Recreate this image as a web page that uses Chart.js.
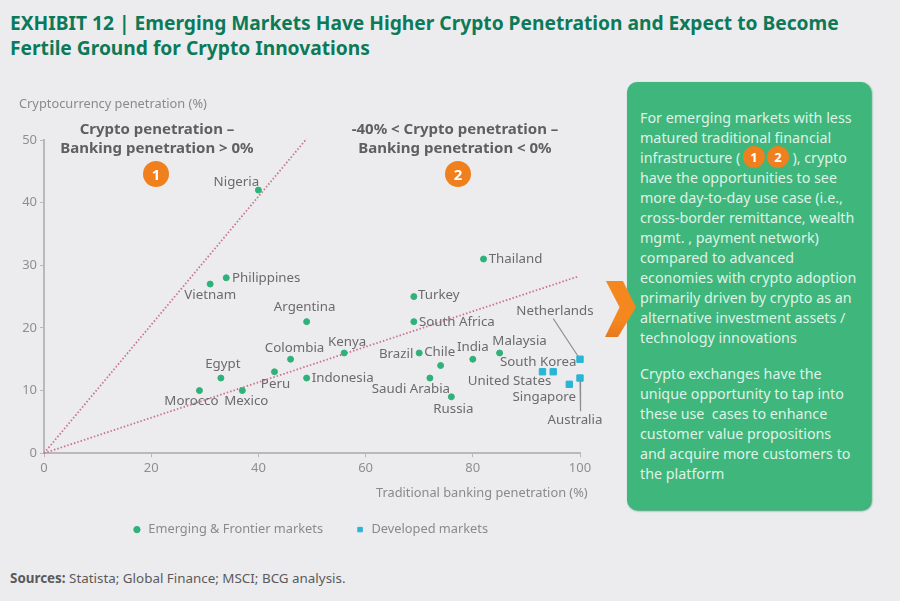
<!DOCTYPE html>
<html>
<head>
<meta charset="utf-8">
<script src="https://cdn.jsdelivr.net/npm/chart.js@4"></script>
<style>
html, body { margin: 0; padding: 0; }
body { width: 900px; height: 601px; background: #ececee; font-family: "Noto Sans", sans-serif; position: relative; overflow: hidden; }
.abs { position: absolute; }
#chart { position: absolute; left: 0; top: 90px; }
#title { left: 10px; top: 10px; font-size: 19.2px; line-height: 25px; font-weight: 700; color: #0c7a58; white-space: nowrap; }
.axisname { font-size: 12.8px; color: #8a8a8c; white-space: nowrap; }
.zone { font-size: 15px; line-height: 19px; font-weight: 700; color: #5f5f62; text-align: center; white-space: nowrap; transform: translateX(-50%); }
.badge { width: 26px; height: 26px; line-height: 26px; border-radius: 50%; background: #f07f1e; color: #fff; font-size: 15px; font-weight: 700; text-align: center; }
#panel { left: 627px; top: 82px; width: 244px; height: 428px; background: #3eb67c; border-radius: 10px; box-shadow: 1px 1px 2px #2f9c68; }
#paneltext { left: 640px; top: 108px; font-size: 14.3px; line-height: 20px; color: #dff3e6; white-space: nowrap; }
#arrow { left: 605px; top: 281px; width: 31px; height: 56px; background: linear-gradient(#f5871f 70%, #e57a1c 100%); clip-path: polygon(3% 0, 58% 0, 100% 47%, 42% 100%, 0 100%, 47% 47%); }
#sources { left: 10px; top: 569px; font-size: 13.4px; color: #5a5a5c; white-space: nowrap; }
</style>
</head>
<body>
<div class="abs" id="title">EXHIBIT 12 | Emerging Markets Have Higher Crypto Penetration and Expect to Become<br>Fertile Ground for Crypto Innovations</div>
<canvas id="chart" width="620" height="456"></canvas>
<div class="abs axisname" style="left:19px;top:94px">Cryptocurrency penetration (%)</div>
<div class="abs axisname" style="left:376px;top:483px">Traditional banking penetration (%)</div>
<div class="abs zone" style="left:157px;top:119px">Crypto penetration –<br>Banking penetration &gt; 0%</div>
<div class="abs zone" style="left:455px;top:119px">-40% &lt; Crypto penetration –<br>Banking penetration &lt; 0%</div>
<div class="abs badge" style="left:143px;top:161px">1</div>
<div class="abs badge" style="left:445px;top:161px">2</div>
<div class="abs" id="panel"></div>
<div class="abs" id="arrow"></div>
<div class="abs" id="paneltext">For emerging markets with less<br>matured traditional financial<br>infrastructure (&nbsp;&nbsp;&nbsp;&nbsp;&nbsp;&nbsp;&nbsp;&nbsp;&nbsp;&nbsp;&nbsp;&nbsp;&nbsp;&nbsp;), crypto<br>have the opportunities to see<br>more day-to-day use case (i.e.,<br>cross-border remittance, wealth<br>mgmt. , payment network)<br>compared to advanced<br>economies with crypto adoption<br>primarily driven by crypto as an<br>alternative investment assets /<br>technology innovations<div style="height:16px"></div>Crypto exchanges have the<br>unique opportunity to tap into<br>these use&nbsp; cases to enhance<br>customer value propositions<br>and acquire more customers to<br>the platform</div>
<div class="abs badge" style="left:743px;top:146px;width:22px;height:22px;line-height:22px;font-size:13px">1</div>
<div class="abs badge" style="left:767px;top:146px;width:22px;height:22px;line-height:22px;font-size:13px">2</div>
<div class="abs" id="sources"><b>Sources:</b> Statista; Global Finance; MSCI; BCG analysis.</div>

<script>
// 数据
const xTicks = [0, 20, 40, 60, 80, 100];
const yTicks = [0, 10, 20, 30, 40, 50];

const emergingNames = ['Nigeria', 'Philippines', 'Vietnam', 'Argentina', 'Thailand', 'Turkey', 'South Africa', 'Kenya', 'Colombia', 'Egypt', 'Morocco', 'Mexico', 'Peru', 'Indonesia', 'Brazil', 'Chile', 'Saudi Arabia', 'Russia', 'India', 'Malaysia'];
const emergingBanking = [40, 34, 31, 49, 82, 69, 69, 56, 46, 33, 29, 37, 43, 49, 70, 74, 72, 76, 80, 85];
const emergingCrypto = [42, 28, 27, 21, 31, 25, 21, 16, 15, 12, 10, 10, 13, 12, 16, 14, 12, 9, 15, 16];

const developedNames = ['Netherlands', 'South Korea', 'United States', 'Singapore', 'Australia'];
const developedBanking = [100, 95, 93, 98, 100];
const developedCrypto = [15, 13, 13, 11, 12];

const upperLineBanking = [0, 49];
const upperLineCrypto = [0, 50.2];
const lowerLineBanking = [0, 99.6];
const lowerLineCrypto = [0, 28.2];

const netherlandsLeaderBanking = [100, 95];
const netherlandsLeaderCrypto = [15, 21.5];
const australiaLeaderBanking = [100, 100.1];
const australiaLeaderCrypto = [12, 6.7];

// 标签相对数据点的偏移
const emergingOffsets = [[-22, -8], [40, 0], [0, 11.5], [-2, -14], [32, 0], [25, -1], [43, 1], [3, -11], [4, -11], [2, -14], [-8, 11], [4, 11], [1, 12], [36, 0], [-23, 1], [-1, -13], [-19, 11], [2, 12], [0, -12], [20, -12]];
const developedOffsets = [[-25, -48], [-15, -10], [-33, 9], [-25, 13], [-5, 42]];

function toPoints(xs, ys) {
    return xs.map(function(x, i) {
        return { x: x, y: ys[i] };
    });
}

function lineDataset(xs, ys, color, dash, width) {
    return {
        label: '',
        data: toPoints(xs, ys),
        showLine: true,
        borderColor: color,
        borderWidth: width,
        borderDash: dash,
        pointRadius: 0,
        clip: false
    };
}

// 画国家名称
const countryLabels = {
    id: 'countryLabels',
    afterLayout: function(chart) {
        // 图例往右挪一点
        chart.legend.left += 20;
        chart.legend.right += 20;
    },
    afterDatasetsDraw: function(chart) {
        const ctx = chart.ctx;
        ctx.save();
        ctx.font = '13.3px "Noto Sans", sans-serif';
        ctx.fillStyle = '#6b6b6e';
        ctx.textAlign = 'center';
        ctx.textBaseline = 'middle';
        [[0, emergingNames, emergingOffsets], [1, developedNames, developedOffsets]].forEach(function(group) {
            chart.getDatasetMeta(group[0]).data.forEach(function(pt, i) {
                ctx.fillText(group[1][i], pt.x + group[2][i][0], pt.y + group[2][i][1]);
            });
        });
        ctx.restore();
    }
};

function axisOptions(min, max, values, fit) {
    return {
        type: 'linear',
        min: min,
        max: max,
        afterBuildTicks: function(axis) {
            axis.ticks = values.map(function(v) {
                return { value: v };
            });
        },
        afterFit: fit,
        border: { color: '#b9b9bc', width: 2 },
        grid: { drawOnChartArea: false, drawTicks: true, tickLength: 4, color: '#b9b9bc' },
        ticks: {
            color: '#8f8f92',
            padding: 3,
            font: { family: '"Noto Sans", sans-serif', size: 13 }
        }
    };
}

new Chart(document.getElementById('chart').getContext('2d'), {
    type: 'scatter',
    data: {
        datasets: [
            {
                label: 'Emerging & Frontier markets',
                data: toPoints(emergingBanking, emergingCrypto),
                backgroundColor: '#2fb27a',
                borderColor: '#2fb27a',
                pointStyle: 'circle',
                pointRadius: 3,
                clip: false
            },
            {
                label: 'Developed markets',
                data: toPoints(developedBanking, developedCrypto),
                backgroundColor: '#2ab4d6',
                borderColor: '#2ab4d6',
                pointStyle: 'rect',
                pointRadius: 4.5,
                clip: false
            },
            lineDataset(upperLineBanking, upperLineCrypto, '#c9748c', [1.5, 2], 1.8),
            lineDataset(lowerLineBanking, lowerLineCrypto, '#c9748c', [1.5, 2], 1.8),
            lineDataset(netherlandsLeaderBanking, netherlandsLeaderCrypto, '#8d8d90', [], 1.2),
            lineDataset(australiaLeaderBanking, australiaLeaderCrypto, '#8d8d90', [], 1.2)
        ]
    },
    plugins: [countryLabels],
    options: {
        responsive: false,
        animation: false,
        layout: { padding: { top: 50, right: 40, left: 0, bottom: 0 } },
        plugins: {
            tooltip: { enabled: false },
            legend: {
                position: 'bottom',
                labels: {
                    filter: function(item) {
                        return item.text !== '';
                    },
                    usePointStyle: true,
                    boxWidth: 10,
                    boxHeight: 4.5,
                    padding: 32,
                    color: '#8a8a8c',
                    font: { family: '"Noto Sans", sans-serif', size: 12.8 }
                }
            }
        },
        scales: {
            x: axisOptions(0, 100, xTicks, function(axis) { axis.height = 38; }),
            y: axisOptions(0, 50, yTicks, function(axis) { axis.width = 44; })
        }
    }
});
</script>
</body>
</html>
